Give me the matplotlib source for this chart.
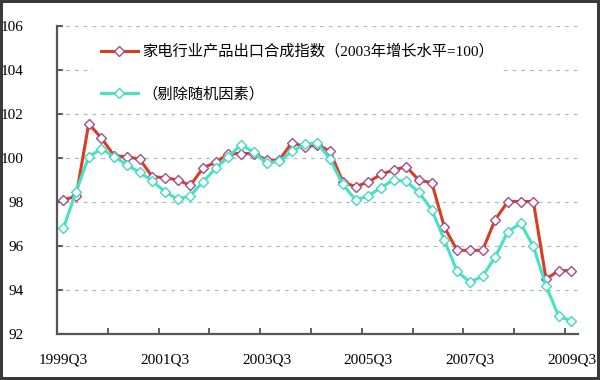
import numpy as np
import matplotlib
matplotlib.use('Agg')
from matplotlib import pyplot as plt

# quarterly index, 1999Q3 .. 2009Q3
export_index = [98.1, 98.25, 101.55, 100.9, 100.1, 100.05, 99.95, 99.15, 99.1, 99.0,
                98.75, 99.55, 99.8, 100.2, 100.2, 100.2, 99.9, 99.9, 100.7, 100.5,
                100.6, 100.3, 98.9, 98.7, 98.9, 99.25, 99.45, 99.6, 98.98, 98.88,
                96.85, 95.8, 95.8, 95.8, 97.2, 98.02, 98.02, 98.02, 94.5, 94.88, 94.88]
adjusted = [96.8, 98.47, 100.06, 100.41, 100.06, 99.68, 99.35, 98.95, 98.47, 98.12,
            98.29, 98.92, 99.53, 100.06, 100.6, 100.25, 99.76, 99.85, 100.3, 100.62,
            100.68, 99.94, 98.8, 98.09, 98.27, 98.65, 99.0, 98.93, 98.43, 97.65,
            96.26, 94.85, 94.36, 94.62, 95.5, 96.65, 97.03, 95.98, 94.19, 92.8, 92.6]
quarter_labels = ['1999Q3', '2001Q3', '2003Q3', '2005Q3', '2007Q3', '2009Q3']
label_pos = [0, 8, 16, 24, 32, 40]
series_names = ['家电行业产品出口合成指数（2003年增长水平=100）', '（剔除随机因素）']

fams = ['Liberation Serif', 'Noto Sans CJK SC', 'DejaVu Sans']
plt.rcParams['font.family'] = fams

fig = plt.figure(figsize=(6, 3.8), dpi=100, edgecolor='#3a3a3a', linewidth=3)
ax = fig.add_axes([0.095, 0.121, 0.868, 0.811])

x = np.arange(len(export_index))
ax.plot(x, export_index, color='#dc3c1e', lw=2.2, marker='D', ms=5.2,
        mfc='white', mec='#a24c8c', mew=1.0, label=series_names[0], zorder=3)
ax.plot(x, adjusted, color='#44e2c6', lw=2.2, marker='D', ms=5.2,
        mfc='white', mec='#44d8c0', mew=1.0, label=series_names[1], zorder=3)

ax.set_ylim(92, 106)
ax.set_yticks(np.arange(92, 107, 2))
ax.set_xlim(-0.5, 40.5)
ax.set_xticks(np.arange(-0.5, 41, 4))
ax.set_xticklabels([])
ax.set_xticks(label_pos, minor=True)
ax.set_xticklabels(quarter_labels, minor=True)
ax.tick_params(axis='x', which='major', direction='in', length=4, width=1.2, color='#444')
ax.tick_params(axis='x', which='minor', length=0, pad=14, labelsize=11)
ax.tick_params(axis='y', direction='in', length=4, width=1.2, color='#444', pad=24, labelsize=11)

ax.grid(axis='y', color='#b8b8b8', linestyle=(0, (3, 4)), linewidth=0.9)
ax.set_axisbelow(True)
for s in ['top', 'right']:
    ax.spines[s].set_visible(False)
for s in ['left', 'bottom']:
    ax.spines[s].set_color('#555555')
    ax.spines[s].set_linewidth(1.6)

leg = ax.legend(loc='upper left', bbox_to_anchor=(0.055, 0.99), frameon=True,
                numpoints=1, handlelength=2.4, handletextpad=0.3, labelspacing=1.85,
                prop={'family': fams, 'size': 11}, borderpad=0.5)
leg.get_frame().set_edgecolor('none')
leg.get_frame().set_facecolor('white')
leg.get_frame().set_alpha(1)

fig.savefig('out.png', dpi=100, edgecolor=fig.get_edgecolor())
